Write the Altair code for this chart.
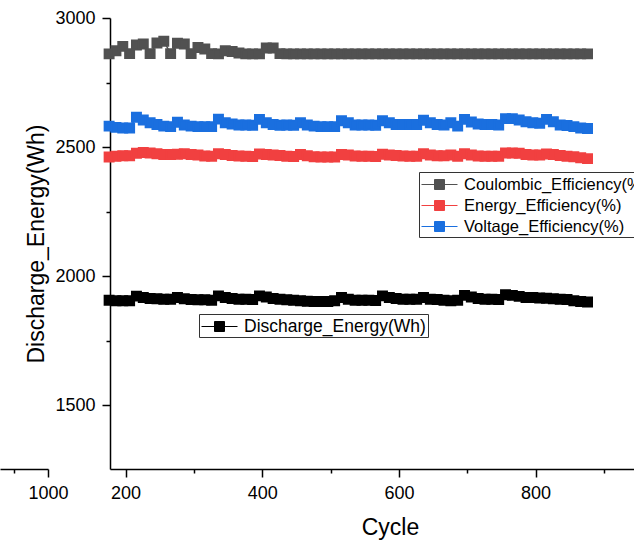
import altair as alt
import pandas as pd

# ---------------- data ----------------
cycles = list(range(176, 877, 10))

coulombic = [2861, 2873, 2890, 2862, 2895, 2899, 2862, 2903, 2910, 2862,
             2902, 2899, 2862, 2886, 2880, 2862, 2861, 2873, 2870, 2864,
             2861, 2861, 2861, 2884, 2884, 2862] + [2861] * 45

energy = [2461, 2464, 2466, 2466, 2476, 2479, 2477, 2474, 2471, 2471,
          2472, 2474, 2471, 2469, 2465, 2464, 2474, 2471, 2467, 2465,
          2464, 2463, 2473, 2471, 2469, 2467, 2464, 2463, 2471, 2466,
          2462, 2461, 2461, 2461, 2471, 2469, 2465, 2464, 2464, 2463,
          2472, 2469, 2467, 2465, 2464, 2464, 2474, 2469, 2466, 2466,
          2469, 2464, 2474, 2469, 2465, 2464, 2464, 2464, 2477, 2477,
          2476, 2471, 2469, 2469, 2473, 2471, 2467, 2464, 2462, 2458,
          2455]

voltage = [2581, 2576, 2574, 2574, 2615, 2605, 2594, 2587, 2581, 2579,
           2596, 2585, 2581, 2579, 2579, 2579, 2608, 2594, 2589, 2585,
           2585, 2584, 2607, 2594, 2587, 2584, 2585, 2584, 2594, 2585,
           2581, 2579, 2579, 2579, 2602, 2594, 2585, 2585, 2585, 2584,
           2602, 2594, 2587, 2587, 2587, 2587, 2604, 2594, 2587, 2585,
           2594, 2581, 2607, 2597, 2589, 2587, 2587, 2585, 2610, 2610,
           2605, 2598, 2594, 2592, 2607, 2598, 2585, 2583, 2579, 2574,
           2572]

discharge = [1906, 1904, 1904, 1904, 1922, 1917, 1913, 1912, 1910, 1910,
             1917, 1912, 1909, 1908, 1908, 1906, 1923, 1917, 1913, 1910,
             1910, 1909, 1923, 1919, 1913, 1910, 1908, 1906, 1904, 1902,
             1901, 1901, 1901, 1904, 1917, 1910, 1906, 1906, 1906, 1905,
             1923, 1917, 1913, 1910, 1910, 1910, 1917, 1910, 1909, 1906,
             1904, 1906, 1925, 1919, 1913, 1910, 1910, 1909, 1927, 1925,
             1921, 1917, 1917, 1915, 1914, 1912, 1910, 1909, 1904, 1901,
             1899]

eff_names = ["Coulombic_Efficiency(%)", "Energy_Efficiency(%)", "Voltage_Efficiency(%)"]
eff_colors = ["#515151", "#F14040", "#1A6FDF"]
dis_name = "Discharge_Energy(Wh)"
dis_color = "#000000"

x_ticks = [200, 300, 400, 500, 600, 700, 800, 900]
y_ticks = [1500, 1750, 2000, 2250, 2500, 2750, 3000]
frag_ticks = [900, 1000]
frag_span = [860, 1000]

# ---------------- tables ----------------
rows = []
for name, vals in zip(eff_names, [coulombic, energy, voltage]):
    for c, v in zip(cycles, vals):
        rows.append({"cycle": c, "value": v, "series": name})
eff_df = pd.DataFrame(rows)
dis_df = pd.DataFrame({"cycle": cycles, "value": discharge, "series": [dis_name] * len(cycles)})
frag_df = pd.DataFrame({"c": frag_span})

FONT = "Liberation Sans"
SYM = "M-1.8,0H-0.5M0.5,0H1.8M-0.5,-0.5H0.5V0.5H-0.5Z"

x_scale = alt.Scale(domain=[177.3, 944], nice=False, zero=False)
y_scale = alt.Scale(domain=[1252, 3000], nice=False, zero=False)


def tick_size(mod):
    return {"condition": {"test": f"datum.value % {mod} === 0", "value": 8}, "value": 4}


x_axis = alt.Axis(values=x_ticks, orient="bottom", title="Cycle", format="d",
                  labelExpr="datum.value % 200 === 0 ? datum.label : ''",
                  tickSize=tick_size(200), labelPadding=7, titlePadding=14,
                  titleX=280, labelFlush=False, labelOverlap=False)
y_axis = alt.Axis(values=y_ticks, orient="left", title="Discharge_Energy(Wh)", format="d",
                  labelExpr="datum.value % 500 === 0 ? datum.label : ''",
                  tickSize=tick_size(500), labelPadding=7, titlePadding=6,
                  labelFlush=False, labelOverlap=False)
frag_axis = alt.Axis(values=frag_ticks, orient="bottom", title=None, format="d",
                     labelExpr="datum.value % 200 === 0 ? datum.label : ''",
                     tickSize=tick_size(200), labelPadding=7,
                     labelFlush=False, labelOverlap=False)


def legend(x, y, fs):
    return alt.Legend(orient="none", legendX=x, legendY=y, title=None,
                      symbolType=SYM, symbolSize=400, symbolStrokeWidth=1,
                      symbolOffset=8, labelOffset=14, labelLimit=0,
                      labelFont=FONT, labelFontSize=fs, labelColor="black",
                      strokeColor="#333333", fillColor="white", padding=2,
                      rowPadding=2)


eff_scale = alt.Scale(domain=eff_names, range=eff_colors)
dis_scale = alt.Scale(domain=[dis_name], range=[dis_color])
leg1 = legend(309, 154, 16.5)
leg2 = legend(89, 296, 17.5)

X_main = alt.X("cycle:Q", scale=x_scale, axis=x_axis)
X_hidden = alt.X("cycle:Q", scale=x_scale, axis=None)
Y = alt.Y("value:Q", scale=y_scale, axis=y_axis)

dis_line = alt.Chart(dis_df).mark_line(strokeWidth=1.5).encode(
    x=X_hidden, y=Y, stroke=alt.Stroke("series:N", scale=dis_scale, legend=leg2))
dis_pts = alt.Chart(dis_df).mark_point(shape="square", filled=True, size=80, opacity=1).encode(
    x=X_hidden, y=Y,
    fill=alt.Fill("series:N", scale=dis_scale, legend=leg2),
    stroke=alt.Stroke("series:N", scale=dis_scale, legend=leg2))
dis = alt.layer(dis_line, dis_pts)

eff_line = alt.Chart(eff_df).mark_line(strokeWidth=1.5).encode(
    x=X_main, y=Y, stroke=alt.Stroke("series:N", scale=eff_scale, legend=leg1),
    detail="series:N")
eff_pts = alt.Chart(eff_df).mark_point(shape="square", filled=True, size=80, opacity=1).encode(
    x=X_main, y=Y,
    fill=alt.Fill("series:N", scale=eff_scale, legend=leg1),
    stroke=alt.Stroke("series:N", scale=eff_scale, legend=leg1))
eff = alt.layer(eff_line, eff_pts)

frag = alt.Chart(frag_df).mark_point(opacity=0).encode(
    x=alt.X("c:Q", scale=alt.Scale(domain=frag_span, range=[-110, -62], nice=False, zero=False),
            axis=frag_axis))

chart = alt.layer(dis, eff, frag).resolve_scale(
    x="independent", fill="independent", stroke="independent"
).properties(
    width=524, height=451,
    padding={"left": 110, "top": 18, "right": 0, "bottom": 72},
    autosize=alt.AutoSizeParams(type="none"),
    background="white",
).configure_view(stroke=None).configure_axis(
    grid=False, labelFont=FONT, titleFont=FONT, labelColor="black", titleColor="black",
    domainColor="black", tickColor="black", labelFontSize=18, titleFontSize=23,
    titleFontWeight="normal", domainWidth=1.5, tickWidth=1.5,
)

chart.save("out.html", embed_options={"renderer": "svg", "actions": False})
